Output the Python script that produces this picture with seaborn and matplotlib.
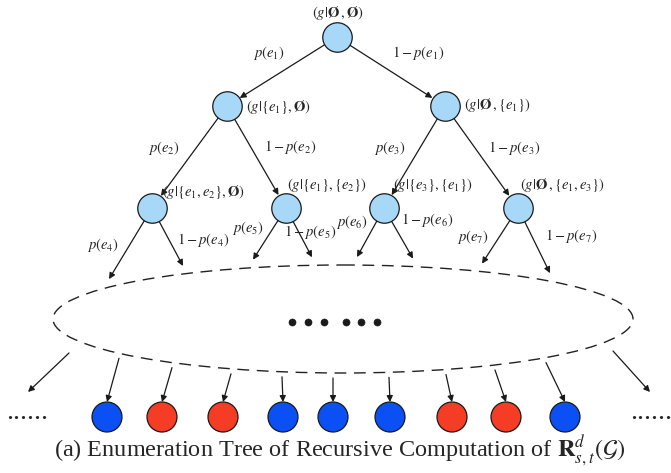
import numpy as np
import pandas as pd
import matplotlib
matplotlib.use("Agg")
import matplotlib.pyplot as plt
from matplotlib.patches import Ellipse
import seaborn as sns

sns.set_theme(style="white")
plt.rcParams['font.family'] = ['Liberation Serif', 'DejaVu Serif']
plt.rcParams['mathtext.fontset'] = 'stix'

# internal nodes of the enumeration tree (level order) and their state labels
node_labels = [r'$(g|\mathbf{\O}\,,\mathbf{\O})$',
               r'$(g|\{e_1\},\mathbf{\O})$', r'$(g|\mathbf{\O}\,,\{e_1\})$',
               r'$(g|\{e_1,e_2\},\mathbf{\O})$', r'$(g|\{e_1\},\{e_2\})$',
               r'$(g|\{e_3\},\{e_1\})$', r'$(g|\mathbf{\O}\,,\{e_1,e_3\})$']
node_x = [337, 227, 445, 152, 286, 384, 518]
node_y = [37, 106, 106, 208, 208, 208, 208]
parents = [None, 0, 0, 1, 1, 2, 2]

# branch probabilities: left = edge present, right = edge absent
edge_names = ['e_1', 'e_2', 'e_3', 'e_4', 'e_5', 'e_6', 'e_7']

# leaves of the tree (outcome of each enumerated subgraph)
leaf_x = [107, 162, 223, 283, 333, 390, 452, 506, 565]
leaf_state = ['blue', 'red', 'red', 'blue', 'blue', 'blue', 'red', 'red', 'blue']

R_NODE = 15
ell_cx, ell_cy, ell_a, ell_b = 343, 319, 290, 54

fig = plt.figure(figsize=(6.71, 4.73), dpi=100)
ax = fig.add_axes([0, 0, 1, 1])
ax.set_xlim(0, 671)
ax.set_ylim(473, 0)
ax.axis('off')

arrow_kw = dict(arrowstyle='-|>', color='k', lw=0.9, mutation_scale=9,
                shrinkA=0, shrinkB=0)


def arrow(p0, p1):
    ax.annotate('', xy=p1, xytext=p0, arrowprops=arrow_kw, zorder=2)


def on_circle(c, toward, r=R_NODE):
    d = np.array(toward, float) - np.array(c, float)
    return tuple(np.array(c) + r * d / np.linalg.norm(d))


def ell_top(x, off=0):
    return ell_cy - ell_b * np.sqrt(1 - ((x - ell_cx) / ell_a) ** 2) - off


def ell_bot(x, off=0):
    return ell_cy + ell_b * np.sqrt(1 - ((x - ell_cx) / ell_a) ** 2) + off


# tree edges between internal nodes
for i, p in enumerate(parents):
    if p is None:
        continue
    c = (node_x[i], node_y[i])
    pc = (node_x[p], node_y[p])
    arrow(on_circle(pc, c), on_circle(c, pc))

# edges from level-2 nodes down to the ellipse
down_tips = [(109, 3), (183, 3), (253, 4), (312, 4), (357, 5), (413, 5), (482, 6), (550, 6)]
for tx, k in down_tips:
    ty = ell_top(tx, 8)
    c = (node_x[k], node_y[k])
    arrow(on_circle(c, (tx, ty), R_NODE - 1), (tx, ty))

# branch labels
lab_pos = [(269, 53, 0, False), (418, 53, 0, True),
           (164, 148, 1, False), (290, 147, 1, True),
           (390, 148, 2, False), (514, 148, 2, True),
           (103, 245, 3, False), (203, 240, 3, True),
           (248, 228, 4, False), (310, 232, 4, True),
           (352, 222, 5, False), (427, 220, 5, True),
           (473, 237, 6, False), (571, 236, 6, True)]
for x, y, e, neg in lab_pos:
    txt = r'$1-p(%s)$' % edge_names[e] if neg else r'$p(%s)$' % edge_names[e]
    ax.text(x, y, txt, ha='center', va='center', fontsize=10.5, zorder=4)

# state labels
state_pos = [(338, 13, 'center'), (246, 107, 'left'), (464, 105, 'left'),
             (162, 192, 'left'), (287, 185, 'left'), (393, 185, 'left'),
             (520, 185, 'left')]
for (x, y, ha), s in zip(state_pos, node_labels):
    ax.text(x, y, s, ha=ha, va='center', fontsize=10.5, zorder=4)

# internal nodes
nodes = pd.DataFrame({'x': node_x, 'y': node_y})
sns.scatterplot(data=nodes, x='x', y='y', s=450, color='#a8d8f8',
                edgecolor='k', linewidth=0.9, ax=ax, zorder=3, legend=False)

# ellipse standing for the omitted levels
ax.add_patch(Ellipse((ell_cx, ell_cy), 2 * ell_a, 2 * ell_b, fill=False,
                     ec='#222222', lw=1.0, ls=(0, (8.5, 5.5)), zorder=1))
sns.scatterplot(x=[292, 308, 324, 346, 361, 377], y=[322] * 6, s=26,
                color='k', edgecolor='k', ax=ax, legend=False, zorder=3)

# arrows into the leaves
leaf_y = 417
arrow((69, 353), (28, 392))
arrow((613, 351), (650, 392))
leaf_from = [119, 172, 231, 282, 333, 389, 446, 495, 546]
for sx, lx in zip(leaf_from, leaf_x):
    arrow((sx, ell_bot(sx, 5)), (lx, leaf_y - R_NODE))

leaves = pd.DataFrame({'x': leaf_x, 'y': [leaf_y] * len(leaf_x), 'state': leaf_state})
sns.scatterplot(data=leaves, x='x', y='y', hue='state', s=466,
                palette={'blue': '#0a50f5', 'red': '#f53c24'},
                edgecolor='k', linewidth=0.9, ax=ax, zorder=3, legend=False)

ax.text(27, 412, '......', ha='center', va='center', fontsize=20)
ax.text(651, 412, '......', ha='center', va='center', fontsize=20)

ax.text(340, 451, r'(a) Enumeration Tree of Recursive Computation of $\mathbf{R}_{s,t}^{d}(\mathcal{G})$',
        ha='center', va='center', fontsize=17.5)

fig.savefig('out.png', dpi=100)
